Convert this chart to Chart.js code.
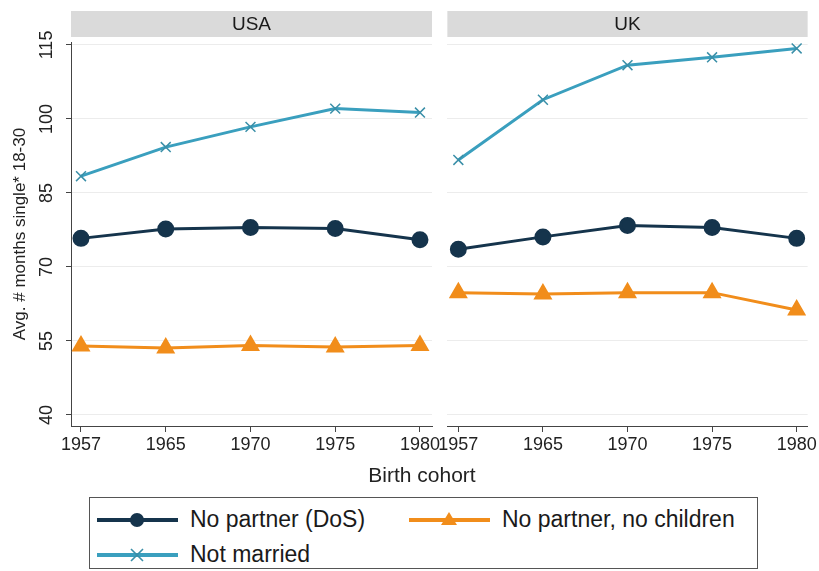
<!DOCTYPE html>
<html>
<head>
<meta charset="utf-8">
<script src="https://cdn.jsdelivr.net/npm/chart.js@4"></script>
<style>
  html, body { margin:0; padding:0; background:#fff; }
  body { width:819px; height:571px; position:relative; overflow:hidden; font-family:"Liberation Sans", Arial, sans-serif; }
  #c1 { position:absolute; left:0; top:0; }
  #c2 { position:absolute; left:436px; top:0; }
  #xtitle { position:absolute; left:0; width:844px; top:463px; text-align:center; font-size:21px; color:#222; }
  #legend { position:absolute; left:89px; top:497px; width:667px; height:70px; border:1px solid #555; box-sizing:content-box; }
  .item { position:absolute; display:flex; align-items:center; font-size:23px; color:#1a1a1a; white-space:nowrap; }
  .item svg { display:block; margin-right:12px; }
</style>
</head>
<body>
<canvas id="c1" width="445" height="470"></canvas>
<canvas id="c2" width="383" height="470"></canvas>
<div id="xtitle">Birth cohort</div>
<div id="legend"></div>
<script>
// ---- data ----
const cohorts = ['1957', '1965', '1970', '1975', '1980'];
const panels = ['USA', 'UK'];
const seriesNames = ['No partner (DoS)', 'No partner, no children', 'Not married'];
const usaNoPartner = [75.8, 77.7, 78.0, 77.8, 75.5];
const usaNoPartnerNoChildren = [54.0, 53.6, 54.1, 53.8, 54.1];
const usaNotMarried = [88.4, 94.3, 98.4, 102.1, 101.3];
const ukNoPartner = [73.6, 76.1, 78.4, 78.0, 75.8];
const ukNoPartnerNoChildren = [64.8, 64.5, 64.8, 64.8, 61.3];
const ukNotMarried = [91.7, 103.9, 110.9, 112.5, 114.3];
const yTicks = [40, 55, 70, 85, 100, 115];
const yTitle = 'Avg. # months single* 18-30';

// ---- styles ----
const FONT = '"Liberation Sans", Arial, sans-serif';
const colNavy = '#15344c';
const colOrange = '#f18d1b';
const colTeal = '#3a9fbe';
const gridCol = '#ececec';
const axisCol = '#444';

function pts(arr) { return arr.map((v, i) => ({ x: i, y: v })); }

function datasets(noP, noPC, notM) {
  return [
    { label: seriesNames[2], data: pts(notM), borderColor: colTeal, backgroundColor: colTeal,
      borderWidth: 3, pointStyle: 'crossRot', pointRadius: 7, pointBorderWidth: 1.5,
      pointBorderColor: '#3a8fa8', tension: 0 },
    { label: seriesNames[0], data: pts(noP), borderColor: colNavy, backgroundColor: colNavy,
      borderWidth: 3, pointStyle: 'circle', pointRadius: 7, tension: 0 },
    { label: seriesNames[1], data: pts(noPC), borderColor: colOrange, backgroundColor: colOrange,
      borderWidth: 3, pointStyle: 'triangle', pointRadius: 8, tension: 0 }
  ];
}

const headerPlugin = {
  id: 'header',
  beforeDraw(chart, args, opts) {
    const { ctx, chartArea } = chart;
    ctx.save();
    ctx.fillStyle = '#dadada';
    ctx.fillRect(chartArea.left, 11, chartArea.right - chartArea.left, 26);
    ctx.fillStyle = '#1a1a1a';
    ctx.font = '19px ' + FONT;
    ctx.textAlign = 'center';
    ctx.textBaseline = 'middle';
    ctx.fillText(opts.text, (chartArea.left + chartArea.right) / 2, 25);
    ctx.restore();
  }
};

function makeChart(id, title, ds, showY, padL, padR, xmin, xmax) {
  return new Chart(document.getElementById(id), {
    type: 'line',
    data: { datasets: ds },
    plugins: [headerPlugin],
    options: {
      responsive: false,
      animation: false,
      layout: { padding: { left: padL, right: padR, top: 42, bottom: 0 } },
      plugins: { legend: { display: false }, tooltip: { enabled: false }, header: { text: title } },
      scales: {
        x: {
          type: 'linear', min: xmin, max: xmax,
          afterBuildTicks: s => { s.ticks = cohorts.map((c, i) => ({ value: i })); },
          afterFit: s => { s.height = 44; },
          ticks: { autoSkip: false, maxRotation: 0, minRotation: 0, padding: 2, color: '#222',
                   font: { family: FONT, size: 18 }, callback: v => cohorts[v] },
          grid: { drawOnChartArea: false, drawTicks: true, tickLength: 6, color: axisCol, tickColor: axisCol },
          border: { display: true, color: axisCol, width: 1 }
        },
        y: {
          type: 'linear', min: 37.77, max: 115.6,
          afterBuildTicks: s => { s.ticks = yTicks.map(v => ({ value: v })); },
          afterFit: s => { s.width = showY ? 71 : 0; },
          ticks: { display: showY, autoSkip: false, minRotation: 90, maxRotation: 90, crossAlign: 'center',
                   padding: 4, color: '#222', font: { family: FONT, size: 18 } },
          grid: { drawOnChartArea: true, drawTicks: showY, tickLength: 5, color: gridCol, tickColor: axisCol },
          border: { display: showY, color: axisCol, width: 1 },
          title: { display: showY, text: yTitle, color: '#222', font: { family: FONT, size: 17 },
                   padding: { top: 10, bottom: 0 } }
        }
      }
    }
  });
}

makeChart('c1', panels[0], datasets(usaNoPartner, usaNoPartnerNoChildren, usaNotMarried), true, 0, 13, -0.118, 4.142);
makeChart('c2', panels[1], datasets(ukNoPartner, ukNoPartnerNoChildren, ukNotMarried), false, 11, 11, -0.13, 4.13);

// ---- legend (HTML) ----
function symbol(color, kind) {
  let m = '';
  if (kind === 'circle') m = `<circle cx="40" cy="10" r="7" fill="${color}"/>`;
  if (kind === 'triangle') m = `<polygon points="40,2 48,15 32,15" fill="${color}"/>`;
  if (kind === 'cross') m = `<path d="M34 4 L46 16 M46 4 L34 16" stroke="#3a8fa8" stroke-width="1.6" fill="none"/>`;
  return `<svg width="81" height="20" viewBox="0 0 81 20"><line x1="0" y1="10" x2="81" y2="10" stroke="${color}" stroke-width="4"/>${m}</svg>`;
}
const legendItems = [
  { name: seriesNames[0], color: colNavy, kind: 'circle', left: 7, top: 8 },
  { name: seriesNames[1], color: colOrange, kind: 'triangle', left: 319, top: 8 },
  { name: seriesNames[2], color: colTeal, kind: 'cross', left: 7, top: 43 }
];
const lg = document.getElementById('legend');
legendItems.forEach(it => {
  const d = document.createElement('div');
  d.className = 'item';
  d.style.left = it.left + 'px';
  d.style.top = it.top + 'px';
  d.innerHTML = symbol(it.color, it.kind) + '<span>' + it.name + '</span>';
  lg.appendChild(d);
});
</script>
</body>
</html>
